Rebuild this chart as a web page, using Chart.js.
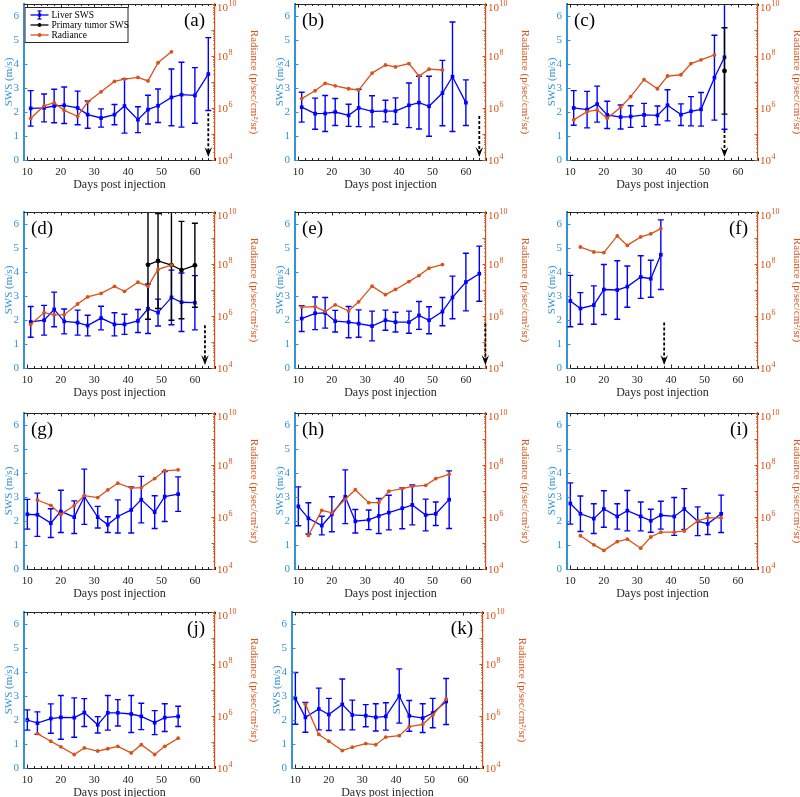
<!DOCTYPE html>
<html>
<head>
<meta charset="utf-8">
<script src="https://cdn.jsdelivr.net/npm/chart.js@4.4.1/dist/chart.umd.min.js"></script>
<style>
  body { margin: 0; background: #fff; overflow: hidden; }
  #wrap { position: relative; width: 800px; height: 797px; overflow: hidden; }
  .panel { position: absolute; }
</style>
</head>
<body>
<div id="wrap"></div>
<script>
// Tick values / labels
const xTickValues = [10, 20, 30, 40, 50, 60];
const swsTickValues = [0, 1, 2, 3, 4, 5, 6];
const radTickValues = [1e4, 1e6, 1e8, 1e10];
const radTickBase = '10';
const radTickExponents = ['4', '6', '8', '10'];

// Sampling days
const daysTo64 = [11, 15, 18, 21, 25, 28, 32, 36, 39, 43, 46, 49, 53, 56, 60, 64];
const daysTo60 = [11, 15, 18, 21, 25, 28, 32, 36, 39, 43, 46, 49, 53, 56, 60];
const daysTo56 = [11, 15, 18, 21, 25, 28, 32, 36, 39, 43, 46, 49, 53, 56];
const radDaysTo53 = [11, 15, 18, 21, 25, 28, 32, 36, 39, 43, 46, 49, 53];
const daysTo55 = [10, 13, 17, 20, 24, 27, 31, 34, 37, 41, 44, 48, 51, 55];
const radDaysTo55 = [13, 17, 20, 24, 27, 31, 34, 37, 41, 44, 48, 51, 55];
const daysTo37 = [10, 13, 17, 20, 24, 27, 31, 34, 37];
const radDaysTo37 = [13, 17, 20, 24, 27, 31, 34, 37];

// (a)
const liverSwsA = [2.15, 2.17, 2.25, 2.28, 2.17, 1.89, 1.75, 1.89, 2.25, 1.68, 2.10, 2.26, 2.61, 2.72, 2.69, 3.58];
const liverErrA = [0.74, 0.58, 0.70, 0.76, 0.70, 0.57, 0.38, 0.42, 1.13, 0.54, 0.60, 0.70, 1.18, 1.35, 1.16, 1.52];
const radA = [4.0e5, 1.2e6, 1.6e6, 8.1e5, 4.8e5, 1.7e6, 4.2e6, 1.05e7, 1.3e7, 1.5e7, 1.1e7, 5.5e7, 1.45e8];
// (b)
const liverSwsB = [2.20, 1.93, 1.94, 2.00, 1.86, 2.17, 2.03, 2.04, 2.04, 2.28, 2.39, 2.24, 2.79, 3.47, 2.39];
const liverErrB = [0.62, 0.65, 0.75, 0.56, 0.46, 0.78, 0.65, 0.45, 0.55, 0.93, 1.10, 1.25, 1.36, 2.28, 0.95];
const radB = [2.3e6, 4.6e6, 8.9e6, 7.1e6, 5.5e6, 4.9e6, 2.2e7, 4.5e7, 3.8e7, 5.1e7, 1.7e7, 3.1e7, 2.9e7];
// (c)
const liverSwsC = [2.17, 2.10, 2.33, 1.88, 1.79, 1.81, 1.88, 1.86, 2.28, 1.89, 2.03, 2.11, 3.43, 4.28];
const liverErrC = [0.72, 0.76, 0.75, 0.57, 0.50, 0.45, 0.48, 0.39, 0.65, 0.45, 0.61, 0.70, 1.77, 3.00];
const tumorDaysC = [56];
const tumorSwsC = [3.71];
const tumorErrC = [1.80];
const radC = [3.5e5, 7.2e5, 8.5e5, 4.0e5, 1.07e6, 2.75e6, 1.23e7, 5.5e6, 1.7e7, 1.9e7, 5.1e7, 7.1e7, 1.1e8];
// (d)
const liverSwsD = [1.92, 1.99, 2.44, 1.94, 1.89, 1.77, 2.08, 1.82, 1.82, 1.96, 2.47, 2.31, 2.94, 2.74, 2.72];
const liverErrD = [0.64, 0.62, 0.72, 0.52, 0.52, 0.43, 0.49, 0.48, 0.42, 0.48, 1.03, 0.56, 1.14, 1.22, 1.13];
const tumorDaysD = [46, 49, 53, 56, 60];
const tumorSwsD = [4.30, 4.46, 4.29, 4.08, 4.28];
const tumorErrD = [2.27, 1.98, 2.30, 2.03, 1.75];
const radD = [4.7e5, 1.35e6, 1.1e6, 1.12e6, 2.9e6, 5.4e6, 7.4e6, 1.38e7, 8.9e6, 2.0e7, 1.38e7, 6.2e7, 9.1e7];
// (e)
const liverSwsE = [2.06, 2.28, 2.30, 1.95, 1.91, 1.85, 1.75, 1.99, 1.91, 1.91, 2.19, 1.99, 2.35, 2.94, 3.58, 3.93];
const liverErrE = [0.54, 0.68, 0.64, 0.45, 0.65, 0.57, 0.62, 0.42, 0.41, 0.46, 0.58, 0.56, 0.59, 0.89, 1.20, 1.15];
const radE = [2.2e6, 2.3e6, 1.5e6, 2.7e6, 1.55e6, 3.5e6, 1.4e7, 6.6e6, 1.05e7, 2.1e7, 3.6e7, 6.9e7, 9.5e7];
// (f)
const liverSwsF = [2.79, 2.48, 2.62, 3.27, 3.25, 3.39, 3.79, 3.72, 4.72];
const liverErrF = [1.07, 0.66, 0.80, 1.04, 1.22, 0.86, 0.89, 0.77, 1.45];
const radF = [4.5e8, 2.9e8, 2.75e8, 1.2e9, 5.2e8, 1.1e9, 1.45e9, 2.3e9];
// (g)
const liverSwsG = [2.28, 2.26, 1.91, 2.40, 2.16, 3.01, 2.16, 1.85, 2.19, 2.46, 2.89, 2.37, 3.02, 3.12];
const liverErrG = [0.62, 0.90, 0.60, 0.88, 0.68, 1.15, 0.45, 0.33, 0.69, 0.96, 0.97, 0.68, 1.04, 0.72];
const radG = [4.5e6, 2.8e6, 1.26e6, 2.75e6, 6.6e6, 5.6e6, 1.1e7, 2.0e7, 1.3e7, 1.35e7, 3.0e7, 6.0e7, 6.5e7];
// (h)
const liverSwsH = [2.61, 2.11, 1.81, 2.28, 3.01, 1.99, 2.05, 2.21, 2.35, 2.53, 2.67, 2.25, 2.30, 2.89];
const liverErrH = [0.81, 0.65, 0.39, 0.73, 1.12, 0.49, 0.41, 0.73, 0.72, 0.85, 0.83, 0.66, 0.49, 1.20];
const radH = [1.95e5, 1.8e6, 1.45e6, 4.8e6, 1.12e7, 3.55e6, 3.55e6, 9.8e6, 1.23e7, 1.5e7, 1.66e7, 3.0e7, 4.4e7];
// (i)
const liverSwsI = [2.73, 2.30, 2.10, 2.50, 2.19, 2.43, 2.19, 2.01, 2.24, 2.19, 2.50, 1.99, 1.88, 2.30];
const liverErrI = [0.86, 0.74, 0.62, 0.76, 0.53, 0.84, 0.60, 0.48, 0.58, 0.79, 0.85, 0.60, 0.44, 0.78];
const radI = [1.9e5, 8.5e4, 5.2e4, 1.12e5, 1.4e5, 6.3e4, 1.7e5, 2.6e5, 2.6e5, 2.9e5, 7.1e5, 9.3e5, 9.3e5];
// (j)
const liverSwsJ = [2.00, 1.87, 2.06, 2.11, 2.10, 2.31, 1.80, 2.30, 2.30, 2.25, 2.15, 1.89, 2.10, 2.15];
const liverErrJ = [0.42, 0.47, 0.61, 0.91, 0.82, 0.58, 0.34, 0.72, 0.55, 0.77, 0.55, 0.50, 0.58, 0.42];
const radJ = [2.1e5, 1.07e5, 6.5e4, 3.3e4, 5.9e4, 4.5e4, 5.5e4, 6.8e4, 3.8e4, 7.9e4, 3.3e4, 6.8e4, 1.4e5];
// (k)
const liverSwsK = [2.90, 2.11, 2.46, 2.23, 2.65, 2.21, 2.18, 2.11, 2.15, 3.00, 2.17, 2.08, 2.29, 2.77];
const liverErrK = [1.08, 0.62, 0.87, 0.67, 1.06, 0.62, 0.46, 0.57, 0.57, 1.13, 0.64, 0.60, 0.61, 0.96];
const radK = [2.8e6, 1.95e5, 1.07e5, 4.7e4, 6.3e4, 8.7e4, 7.9e4, 1.55e5, 1.75e5, 3.9e5, 4.8e5, 1.07e6, 4.5e6];

// arrows: [day, SWS value where the dashed arrow starts]
const arrowA = [64, 1.95];
const arrowB = [64, 1.83];
const arrowC = [56, 1.25];
const arrowD = [63, 1.78];
const arrowE = [65.8, 1.85];
const arrowF = [38, 1.90];

const BLUE = '#0000ff';
const AXIS_BLUE = '#3392da';
const ORANGE = '#d95319';
const DARK = '#262626';
const SERIF = '"Liberation Serif", "Times New Roman", serif';

Chart.defaults.font.family = SERIF;
Chart.defaults.color = DARK;

const colLeft = [0, 271, 543];
const rowTop = [0, 208, 409, 608];

const panels = [
  { label: '(a)', side: 'right', left: colLeft[0], top: rowTop[0], days: daysTo64, sws: liverSwsA, err: liverErrA, radDays: radDaysTo53, rad: radA, arrow: arrowA, legend: true },
  { label: '(b)', side: 'left', left: colLeft[1], top: rowTop[0], days: daysTo60, sws: liverSwsB, err: liverErrB, radDays: radDaysTo53, rad: radB, arrow: arrowB },
  { label: '(c)', side: 'left', left: colLeft[2], top: rowTop[0], days: daysTo56, sws: liverSwsC, err: liverErrC, radDays: radDaysTo53, rad: radC, arrow: arrowC,
    tDays: tumorDaysC, tSws: tumorSwsC, tErr: tumorErrC },
  { label: '(d)', side: 'left', left: colLeft[0], top: rowTop[1], days: daysTo60, sws: liverSwsD, err: liverErrD, radDays: radDaysTo53, rad: radD, arrow: arrowD,
    tDays: tumorDaysD, tSws: tumorSwsD, tErr: tumorErrD },
  { label: '(e)', side: 'left', left: colLeft[1], top: rowTop[1], days: daysTo64, sws: liverSwsE, err: liverErrE, radDays: radDaysTo53, rad: radE, arrow: arrowE },
  { label: '(f)', side: 'right', left: colLeft[2], top: rowTop[1], days: daysTo37, sws: liverSwsF, err: liverErrF, radDays: radDaysTo37, rad: radF, arrow: arrowF },
  { label: '(g)', side: 'left', left: colLeft[0], top: rowTop[2], days: daysTo55, sws: liverSwsG, err: liverErrG, radDays: radDaysTo55, rad: radG },
  { label: '(h)', side: 'left', left: colLeft[1], top: rowTop[2], days: daysTo55, sws: liverSwsH, err: liverErrH, radDays: radDaysTo55, rad: radH },
  { label: '(i)', side: 'right', left: colLeft[2], top: rowTop[2], days: daysTo55, sws: liverSwsI, err: liverErrI, radDays: radDaysTo55, rad: radI },
  { label: '(j)', side: 'right', left: colLeft[0], top: rowTop[3], days: daysTo55, sws: liverSwsJ, err: liverErrJ, radDays: radDaysTo55, rad: radJ },
  { label: '(k)', side: 'right', left: colLeft[1] - 3, top: rowTop[3], days: daysTo55, sws: liverSwsK, err: liverErrK, radDays: radDaysTo55, rad: radK }
];

// vertical error bars, drawn right after their own dataset
const errorBars = {
  id: 'errorBars',
  afterDatasetDraw(chart, args) {
    const ds = chart.data.datasets[args.index];
    if (!ds.errors) return;
    const { ctx, chartArea: a } = chart;
    const yScale = chart.scales[args.meta.yAxisID];
    ctx.save();
    ctx.beginPath();
    ctx.rect(a.left, a.top, a.right - a.left, a.bottom - a.top);
    ctx.clip();
    ctx.strokeStyle = ds.borderColor;
    ctx.lineWidth = 1.4;
    args.meta.data.forEach((pt, i) => {
      const v = ds.data[i].y, e = ds.errors[i];
      const y1 = yScale.getPixelForValue(v + e);
      const y2 = yScale.getPixelForValue(v - e);
      ctx.beginPath();
      ctx.moveTo(pt.x, y1); ctx.lineTo(pt.x, y2);
      ctx.moveTo(pt.x - 3, y1); ctx.lineTo(pt.x + 3, y1);
      ctx.moveTo(pt.x - 3, y2); ctx.lineTo(pt.x + 3, y2);
      ctx.stroke();
    });
    ctx.restore();
  }
};

function line(ctx, x1, y1, x2, y2) {
  ctx.beginPath(); ctx.moveTo(x1, y1); ctx.lineTo(x2, y2); ctx.stroke();
}

function drawFrame(chart) {
  const { ctx, chartArea: a, scales } = chart;
  ctx.save();
  ctx.lineWidth = 1;
  ctx.strokeStyle = DARK;
  line(ctx, a.left, a.top + 0.5, a.right, a.top + 0.5);
  // x ticks (inward), top and bottom
  for (let d = 10; d <= 66; d += 2) {
    const px = Math.round(scales.x.getPixelForValue(d)) + 0.5;
    const len = d % 10 === 0 ? 3.5 : 2;
    line(ctx, px, a.bottom, px, a.bottom - len);
    line(ctx, px, a.top, px, a.top + len);
  }
  // left ticks
  ctx.strokeStyle = AXIS_BLUE;
  swsTickValues.forEach(v => {
    const py = Math.round(scales.y.getPixelForValue(v)) + 0.5;
    line(ctx, a.left, py, a.left + 3.5, py);
  });
  // right log ticks, major and minor
  ctx.strokeStyle = ORANGE;
  for (let e = 4; e <= 10; e++) {
    for (let m = 1; m <= 9; m++) {
      const v = m * Math.pow(10, e);
      if (v > 1e10) break;
      const py = Math.round(scales.y2.getPixelForValue(v)) + 0.5;
      line(ctx, a.right, py, a.right - (m === 1 ? 3.5 : 1.8), py);
    }
  }
  // right tick labels as 10 with a raised exponent
  ctx.fillStyle = ORANGE;
  ctx.textAlign = 'left';
  ctx.textBaseline = 'middle';
  radTickValues.forEach((v, k) => {
    let py = scales.y2.getPixelForValue(v);
    py += Math.max(0, 7.5 - py); // keep the top label inside the canvas
    const x0 = a.right + 2;
    ctx.font = '11px ' + SERIF;
    ctx.fillText(radTickBase, x0, py + 1);
    const w = ctx.measureText(radTickBase).width;
    ctx.font = '8px ' + SERIF;
    ctx.fillText(radTickExponents[k], x0 + w + 0.5, py - 3.5);
  });
  ctx.restore();
}

function drawArrow(chart, arrow) {
  const { ctx, chartArea: a, scales } = chart;
  const px = scales.x.getPixelForValue(arrow[0]);
  const y0 = scales.y.getPixelForValue(arrow[1]);
  const tip = a.bottom - 3;
  ctx.save();
  ctx.strokeStyle = '#000';
  ctx.lineWidth = 1.8;
  ctx.setLineDash([3, 2]);
  line(ctx, px, y0, px, tip - 6);
  ctx.setLineDash([]);
  ctx.fillStyle = '#000';
  ctx.beginPath();
  ctx.moveTo(px, tip);
  ctx.lineTo(px - 3.8, tip - 10);
  ctx.lineTo(px, tip - 6);
  ctx.lineTo(px + 3.8, tip - 10);
  ctx.closePath();
  ctx.fill();
  ctx.restore();
}

function drawLegend(chart) {
  const { ctx, chartArea: a } = chart;
  const bx = a.left + 0.5, by = a.top + 3, bw = 103, bh = 35;
  const rows = [
    { text: 'Liver SWS', color: BLUE, err: true },
    { text: 'Primary tumor SWS', color: '#000' },
    { text: 'Radiance', color: ORANGE }
  ];
  ctx.save();
  ctx.fillStyle = '#fff';
  ctx.fillRect(bx, by, bw, bh);
  ctx.strokeStyle = DARK;
  ctx.lineWidth = 1;
  ctx.strokeRect(bx + 0.5, by + 0.5, bw, bh);
  rows.forEach((r, i) => {
    const cy = by + 8 + i * 10;
    const x1 = bx + 6, x2 = bx + 24, xm = bx + 15;
    ctx.strokeStyle = r.color;
    ctx.fillStyle = r.color;
    ctx.lineWidth = 1.3;
    line(ctx, x1, cy, x2, cy);
    if (r.err) {
      line(ctx, xm, cy - 4, xm, cy + 4);
      line(ctx, xm - 2, cy - 4, xm + 2, cy - 4);
      line(ctx, xm - 2, cy + 4, xm + 2, cy + 4);
      ctx.fillRect(xm - 1.6, cy - 1.6, 3.2, 3.2);
    } else {
      ctx.beginPath(); ctx.arc(xm, cy, 1.9, 0, Math.PI * 2); ctx.fill();
    }
    ctx.fillStyle = '#000';
    ctx.font = '9.5px ' + SERIF;
    ctx.textBaseline = 'middle';
    ctx.textAlign = 'left';
    ctx.fillText(r.text, bx + 27, cy + 0.5);
  });
  ctx.restore();
}

function makeChart(p) {
  const holder = document.createElement('div');
  holder.className = 'panel';
  holder.style.left = p.left + 'px';
  holder.style.top = p.top + 'px';
  const canvas = document.createElement('canvas');
  canvas.width = 263;
  canvas.height = 196;
  holder.appendChild(canvas);
  document.getElementById('wrap').appendChild(holder);

  const datasets = [{
    label: 'Radiance',
    data: p.radDays.map((d, i) => ({ x: d, y: p.rad[i] })),
    yAxisID: 'y2', order: 0,
    borderColor: ORANGE, backgroundColor: ORANGE,
    borderWidth: 1.3, pointRadius: 1.9, pointBorderWidth: 0
  }];
  if (p.tDays) {
    datasets.push({
      label: 'Primary tumor SWS',
      data: p.tDays.map((d, i) => ({ x: d, y: p.tSws[i] })),
      errors: p.tErr,
      yAxisID: 'y', order: 1,
      borderColor: '#000', backgroundColor: '#000',
      borderWidth: 1.3, pointRadius: 2.4, pointBorderWidth: 0
    });
  }
  datasets.push({
    label: 'Liver SWS',
    data: p.days.map((d, i) => ({ x: d, y: p.sws[i] })),
    errors: p.err,
    yAxisID: 'y', order: 2,
    borderColor: BLUE, backgroundColor: BLUE,
    borderWidth: 1.3, pointStyle: 'rect', pointRadius: 2.6, pointBorderWidth: 0
  });

  const panelPlugin = {
    id: 'panelDecor',
    afterDraw(chart) {
      drawFrame(chart);
      if (p.arrow) drawArrow(chart, p.arrow);
      if (p.legend) drawLegend(chart);
      const { ctx, chartArea: a } = chart;
      ctx.save();
      ctx.fillStyle = '#000';
      ctx.font = '19px ' + SERIF;
      ctx.textBaseline = 'middle';
      ctx.textAlign = p.side === 'left' ? 'left' : 'right';
      ctx.fillText(p.label, p.side === 'left' ? a.left + 7 : a.right - 10, a.top + 17);
      ctx.restore();
    }
  };

  const noPad = s => { s.paddingTop = 0; s.paddingBottom = 0; s.paddingLeft = 0; s.paddingRight = 0; };

  new Chart(canvas, {
    type: 'line',
    data: { datasets },
    options: {
      responsive: false,
      animation: false,
      devicePixelRatio: 1,
      layout: { padding: { top: 4, left: 0, right: 0, bottom: 0 } },
      elements: { line: { tension: 0 } },
      plugins: { legend: { display: false }, tooltip: { enabled: false } },
      scales: {
        x: {
          type: 'linear', min: 9, max: 66, position: 'bottom',
          afterBuildTicks: s => { s.ticks = xTickValues.map(v => ({ value: v })); },
          afterFit: s => { s.height = 36; noPad(s); },
          grid: { display: false, drawTicks: false },
          border: { display: true, color: DARK, width: 1 },
          ticks: { color: DARK, font: { size: 11 }, padding: 6, maxRotation: 0, autoSkip: false },
          title: { display: true, text: 'Days post injection', color: DARK, font: { size: 12 }, padding: { top: 0, bottom: 4 } }
        },
        y: {
          type: 'linear', min: 0, max: 6.5, position: 'left',
          afterBuildTicks: s => { s.ticks = swsTickValues.map(v => ({ value: v })); },
          afterFit: s => { s.width = 24; noPad(s); },
          grid: { display: false, drawTicks: false },
          border: { display: true, color: AXIS_BLUE, width: 2 },
          ticks: { color: AXIS_BLUE, font: { size: 11 }, padding: 5, autoSkip: false },
          title: { display: true, text: 'SWS (m/s)', color: AXIS_BLUE, font: { size: 11 }, padding: { top: 3, bottom: 0 } }
        },
        y2: {
          type: 'logarithmic', min: 1e4, max: 1e10, position: 'right',
          afterBuildTicks: s => { s.ticks = radTickValues.map(v => ({ value: v })); },
          afterFit: s => { s.width = 48; noPad(s); },
          grid: { display: false, drawTicks: false },
          border: { display: true, color: ORANGE, width: 1.2 },
          ticks: { display: false },
          title: { display: true, text: 'Radiance (p/sec/cm\u00b2/sr)', color: ORANGE, font: { size: 11 }, padding: { top: 3, bottom: 0 } }
        }
      }
    },
    plugins: [errorBars, panelPlugin]
  });
}

panels.forEach(makeChart);
</script>
</body>
</html>
